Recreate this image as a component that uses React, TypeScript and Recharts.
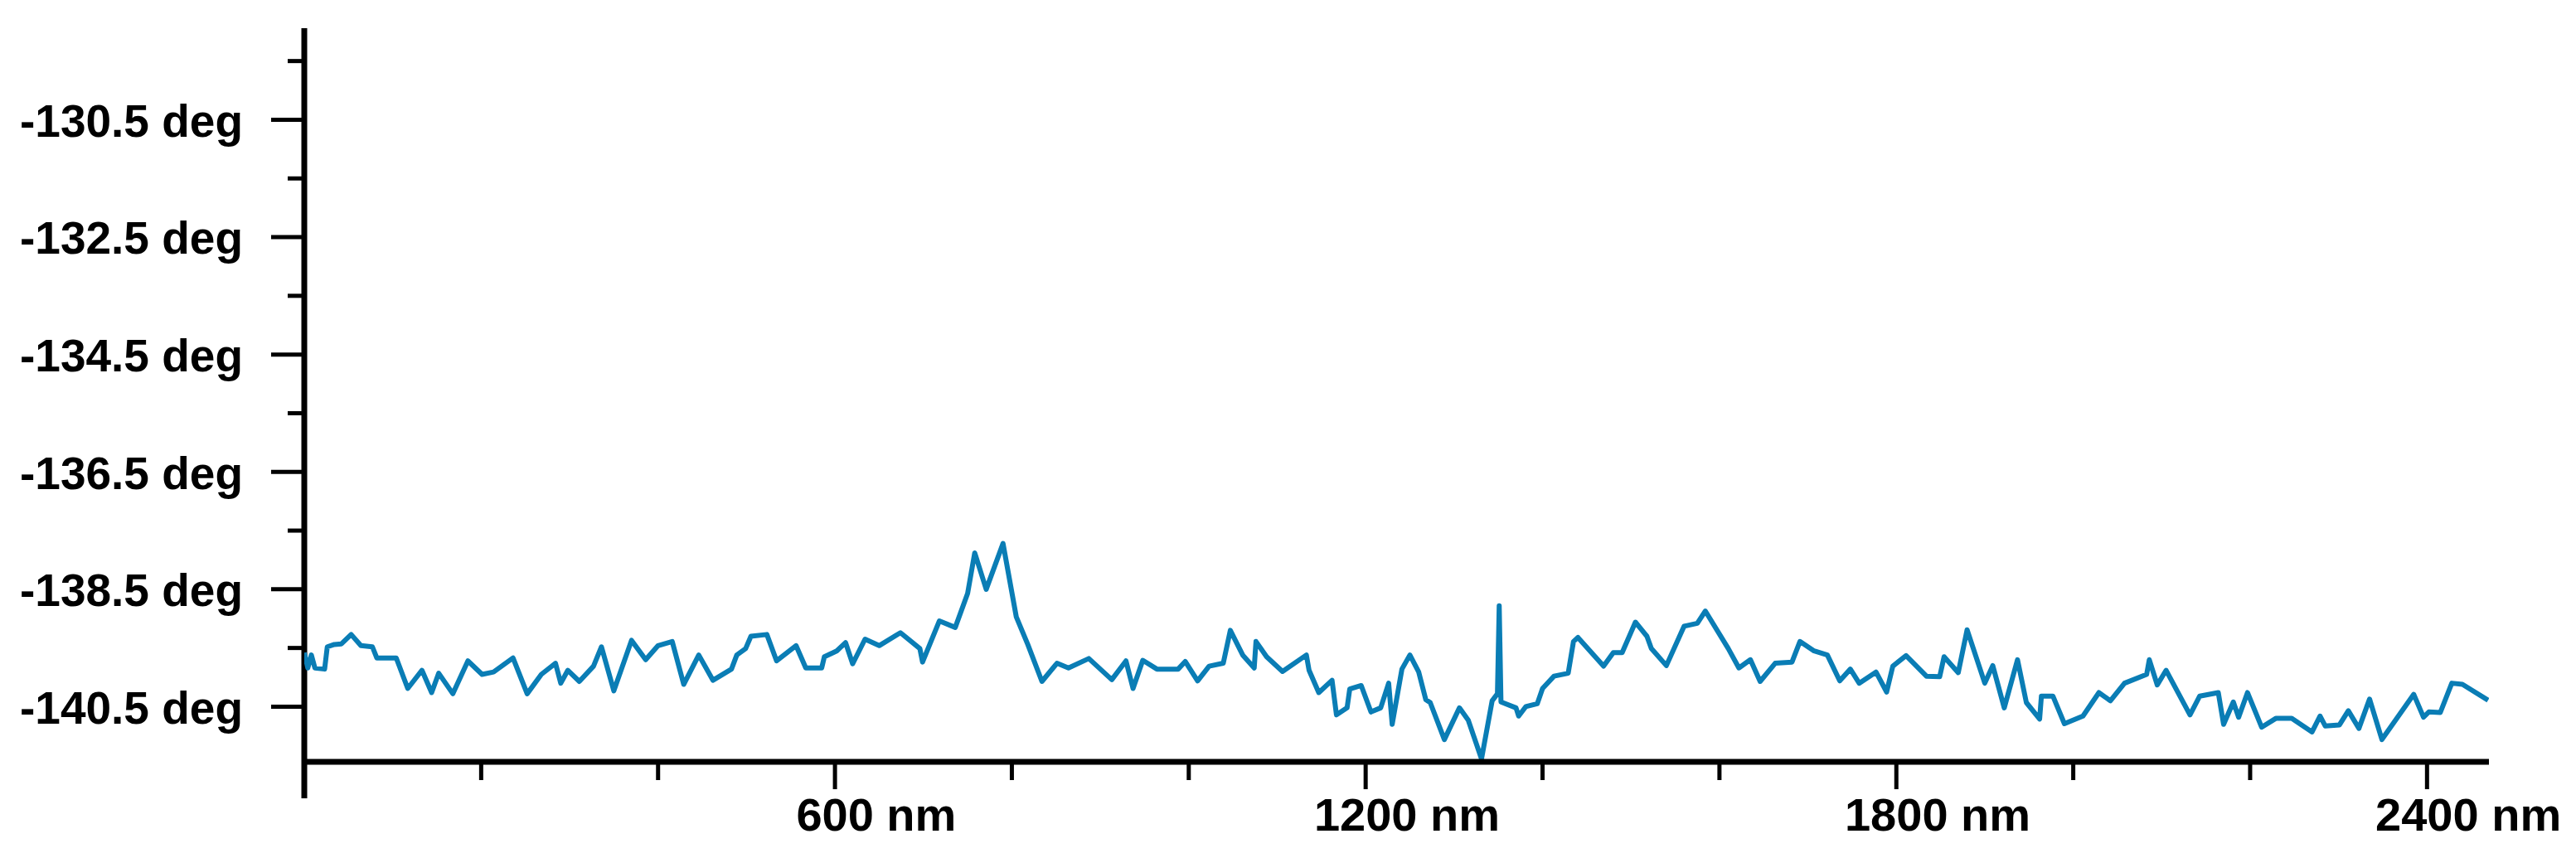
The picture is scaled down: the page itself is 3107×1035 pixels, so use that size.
import { LineChart, Line, XAxis, YAxis, ReferenceLine } from "recharts";

// position along the profile (nm)
const POSITIONS = [
  0, 4, 8, 12, 23, 26, 34, 42, 53, 64, 77, 82, 104, 117, 133, 144, 152, 168, 185, 201,
  214, 236, 252, 268, 284, 290, 298, 311, 327, 336, 350, 370, 386, 400, 416, 429, 446, 462, 483, 489,
  499, 505, 523, 534, 556, 567, 585, 588, 602, 612, 620, 634, 650, 674, 696, 699, 718, 736, 750, 758,
  771, 790, 805, 818, 834, 851, 864, 887, 913, 929, 937, 948, 964, 988, 996, 1010, 1023, 1039, 1047, 1061,
  1074, 1076, 1088, 1106, 1133, 1136, 1147, 1162, 1167, 1179, 1182, 1195, 1206, 1217, 1226, 1230, 1241, 1250, 1260, 1268,
  1273, 1289, 1306, 1316, 1331, 1343, 1349, 1351, 1353, 1370, 1373, 1381, 1394, 1400, 1413, 1429, 1435, 1440, 1469, 1480,
  1490, 1505, 1518, 1523, 1540, 1560, 1575, 1584, 1610, 1622, 1635, 1646, 1663, 1682, 1691, 1707, 1722, 1736, 1748, 1758,
  1777, 1789, 1796, 1811, 1834, 1849, 1854, 1870, 1880, 1900, 1909, 1922, 1937, 1947, 1962, 1964, 1977, 1990, 2011, 2029,
  2042, 2058, 2083, 2086, 2095, 2105, 2132, 2143, 2164, 2170, 2181, 2187, 2197, 2213, 2229, 2247, 2270, 2279, 2285, 2301,
  2311, 2323, 2335, 2349, 2385, 2396, 2402, 2415, 2428, 2440, 2469,
];

// phase (deg)
const PHASE = [
  -139.58, -139.84, -139.62, -139.84, -139.86, -139.48, -139.44, -139.43, -139.27, -139.46,
  -139.48, -139.67, -139.67, -140.19, -139.88, -140.26, -139.93, -140.28, -139.72, -139.95,
  -139.91, -139.67, -140.28, -139.95, -139.76, -140.1, -139.88, -140.07, -139.81, -139.48,
  -140.23, -139.37, -139.7, -139.46, -139.39, -140.12, -139.62, -140.05, -139.86, -139.62,
  -139.51, -139.3, -139.27, -139.72, -139.46, -139.84, -139.84, -139.65, -139.55, -139.41,
  -139.77, -139.35, -139.46, -139.24, -139.51, -139.74, -139.04, -139.15, -138.57, -137.88,
  -138.5, -137.72, -138.97, -139.44, -140.07, -139.76, -139.84, -139.68, -140.04, -139.72,
  -140.19, -139.71, -139.86, -139.86, -139.73, -140.06, -139.81, -139.76, -139.2, -139.62,
  -139.84, -139.39, -139.65, -139.9, -139.62, -139.88, -140.26, -140.05, -140.64, -140.52,
  -140.2, -140.14, -140.59, -140.52, -140.1, -140.8, -139.86, -139.62, -139.91, -140.38,
  -140.43, -141.06, -140.52, -140.73, -141.39, -140.4, -140.28, -138.78, -140.42, -140.52,
  -140.66, -140.5, -140.45, -140.19, -139.98, -139.93, -139.39, -139.32, -139.81, -139.58,
  -139.58, -139.06, -139.3, -139.51, -139.8, -139.13, -139.08, -138.87, -139.51, -139.84,
  -139.7, -140.07, -139.76, -139.74, -139.39, -139.55, -139.62, -140.06, -139.86, -140.1,
  -139.91, -140.25, -139.81, -139.63, -139.98, -139.99, -139.65, -139.92, -139.19, -140.1,
  -139.8, -140.52, -139.7, -140.43, -140.71, -140.32, -140.32, -140.79, -140.66, -140.26,
  -140.4, -140.1, -139.95, -139.7, -140.13, -139.88, -140.64, -140.32, -140.26, -140.8,
  -140.42, -140.68, -140.26, -140.85, -140.7, -140.7, -140.93, -140.66, -140.83, -140.81,
  -140.57, -140.87, -140.37, -141.06, -140.29, -140.68, -140.59, -140.6, -140.1, -140.12,
  -140.39,
];

const X_TICKS = [200, 400, 600, 800, 1000, 1200, 1400, 1600, 1800, 2000, 2200, 2400];
const X_LABELED = [600, 1200, 1800, 2400];
const Y_TICKS = [
  -140.5, -139.5, -138.5, -137.5, -136.5, -135.5, -134.5, -133.5, -132.5, -131.5, -130.5, -129.5,
];
const Y_LABELED = [-140.5, -138.5, -136.5, -134.5, -132.5, -130.5];

const X_DOMAIN: [number, number] = [0, 2470];
const Y_DOMAIN: [number, number] = [-141.44, -128.94];
const Y_AXIS_STUB = -142.06; // y axis runs a bit past the x axis

const FONT = "'Liberation Sans', Arial, sans-serif";
const LINE_COLOR = "#0a7db5";

const data = POSITIONS.map((nm, i) => ({ nm, phase: PHASE[i] }));

function XTick(props: any) {
  const { x, y, payload } = props;
  const major = X_LABELED.includes(payload.value);
  const fs = 56;
  const num = String(payload.value);
  // keep the number itself centred under the tick
  const numW = num.length * 0.556 * fs;
  return (
    <g>
      <line x1={x} y1={y} x2={x} y2={y + (major ? 33 : 22)} stroke="#000" strokeWidth={5} />
      {major && (
        <text x={x - numW / 2} y={y + 83} fontSize={fs} fontWeight={700} fontFamily={FONT} fill="#000">
          {num} nm
        </text>
      )}
    </g>
  );
}

function YTick(props: any) {
  const { x, y, payload } = props;
  const major = Y_LABELED.includes(payload.value);
  return (
    <g>
      <line x1={x - (major ? 40 : 20)} y1={y} x2={x} y2={y} stroke="#000" strokeWidth={5} />
      {major && (
        <text
          x={x - 74}
          y={y}
          dy="0.37em"
          textAnchor="end"
          fontSize={55}
          fontWeight={700}
          fontFamily={FONT}
          fill="#000"
        >
          {payload.value.toFixed(1)} deg
        </text>
      )}
    </g>
  );
}

export default function App() {
  return (
    <div style={{ position: "absolute", left: 0, top: 0, width: 3107, height: 1035, background: "#fff" }}>
      <LineChart width={3107} height={1035} data={data} margin={{ top: 34, right: 105, bottom: 0, left: 0 }}>
        <XAxis
          dataKey="nm"
          type="number"
          domain={X_DOMAIN}
          ticks={X_TICKS}
          interval={0}
          allowDataOverflow
          height={116}
          tickSize={0}
          tickMargin={0}
          tickLine={false}
          axisLine={{ stroke: "#000", strokeWidth: 7 }}
          tick={(p: any) => <XTick {...p} />}
        />
        <YAxis
          type="number"
          domain={Y_DOMAIN}
          ticks={Y_TICKS}
          interval={0}
          allowDataOverflow
          width={367}
          tickSize={0}
          tickMargin={0}
          tickLine={false}
          axisLine={false}
          tick={(p: any) => <YTick {...p} />}
        />
        <ReferenceLine
          segment={[
            { x: 0, y: Y_DOMAIN[1] },
            { x: 0, y: Y_AXIS_STUB },
          ]}
          stroke="#000"
          strokeWidth={7}
          ifOverflow="visible"
        />
        <Line
          type="linear"
          dataKey="phase"
          stroke={LINE_COLOR}
          strokeWidth={6}
          strokeLinejoin="round"
          dot={false}
          isAnimationActive={false}
        />
      </LineChart>
    </div>
  );
}
